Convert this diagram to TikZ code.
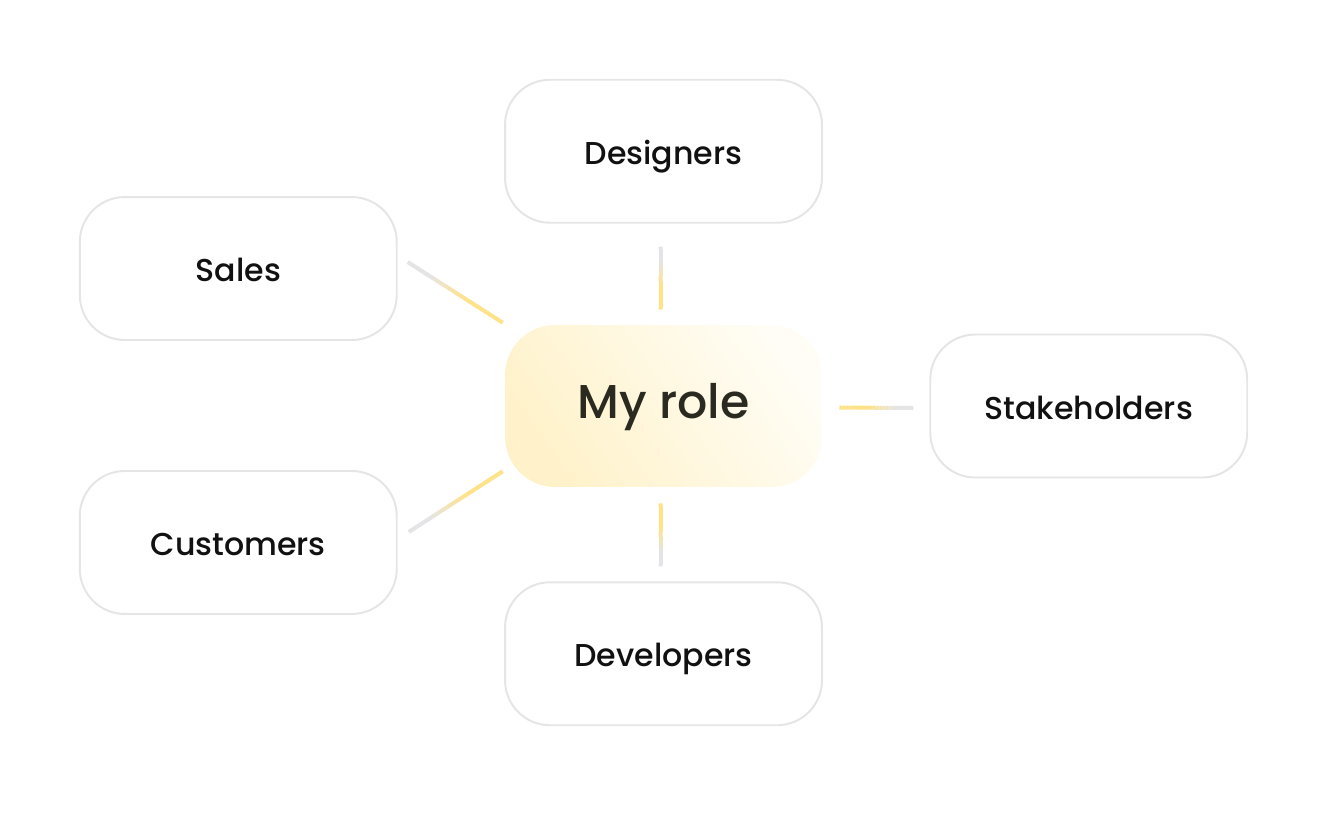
\documentclass[tikz,border=0pt]{standalone}
\usepackage{fontspec}
\setmainfont{Poppins}[UprightFont={* Medium}]
\usepackage{tikz}
\usetikzlibrary{positioning, calc}
\usepackage{xcolor}

\definecolor{boxline}{HTML}{E5E5E5}
\definecolor{labeltext}{HTML}{111111}
\definecolor{roletext}{HTML}{2B2A20}
\definecolor{linkgray}{HTML}{E4E4E7}
\definecolor{linkyellow}{HTML}{FFE287}
\definecolor{roleA}{HTML}{FFF2CA}
\definecolor{roleB}{HTML}{FFFDF5}

% fading connector: #1 grey end, #2 yellow end
\newcommand{\fadelink}[2]{%
  \foreach \i in {0,...,23}{
    \pgfmathsetmacro\ta{\i/24}
    \pgfmathsetmacro\tb{(\i+1)/24}
    \pgfmathtruncatemacro\mix{100*min(1,max(0,(\ta-0.2)/0.4))}
    \draw[link, draw=linkyellow!\mix!linkgray] ($#1!\ta!#2$) -- ($#1!\tb!#2$);
  }%
}

\begin{document}
\begin{tikzpicture}[
  x=0.02cm, y=-0.02cm,
  font=\fontsize{18}{22}\selectfont,
  box/.style={
    rectangle, draw=boxline, line width=1.1pt, rounded corners=0.9cm,
    minimum width=6.34cm, minimum height=2.86cm, align=center,
    fill=white, text=labeltext, text height=1.5em, text depth=0pt
  },
  rolebox/.style={
    rectangle, rounded corners=1cm,
    minimum width=6.34cm, minimum height=3.24cm, align=center,
    left color=roleA, right color=roleB, shading angle=125,
    text=roletext, font=\fontsize{27}{32}\selectfont,
    text height=1.4em, text depth=0pt
  },
  link/.style={line width=0.08cm}
]
\useasboundingbox (0,0) rectangle (1328,812);

% Center node
\node[rolebox] (role) at (663.5,406) {My role};

% Surrounding nodes
\node[box, above=2.02cm of role] (designers) {Designers};
\node[box, below=1.88cm of role] (developers) {Developers};
\node[box, right=2.14cm of role] (stake) {Stakeholders};
\node[box, left=2.14cm of role, yshift=2.75cm] (sales) {Sales};
\node[box, left=2.14cm of role, yshift=-2.73cm] (customers) {Customers};

% Connector ends
\coordinate (designersA) at ([shift={(-3,23)}]designers.south);
\coordinate (designersB) at ([shift={(-3,-15)}]role.north);
\coordinate (developersA) at ([shift={(-3,-15)}]developers.north);
\coordinate (developersB) at ([shift={(-3,16)}]role.south);
\coordinate (stakeA) at ([shift={(-16,2)}]stake.west);
\coordinate (stakeB) at ([shift={(17,1.5)}]role.east);
\coordinate (salesA) at ([shift={(10,-6.5)}]sales.east);
\coordinate (salesB) at ([shift={(-2,-2)}]role.north west);
\coordinate (customersA) at ([shift={(11,-10.5)}]customers.east);
\coordinate (customersB) at ([shift={(-2,-16)}]role.south west);

% Connectors
\fadelink{(designersA)}{(designersB)}
\fadelink{(developersA)}{(developersB)}
\fadelink{(stakeA)}{(stakeB)}
\fadelink{(salesA)}{(salesB)}
\fadelink{(customersA)}{(customersB)}

\end{tikzpicture}
\end{document}
